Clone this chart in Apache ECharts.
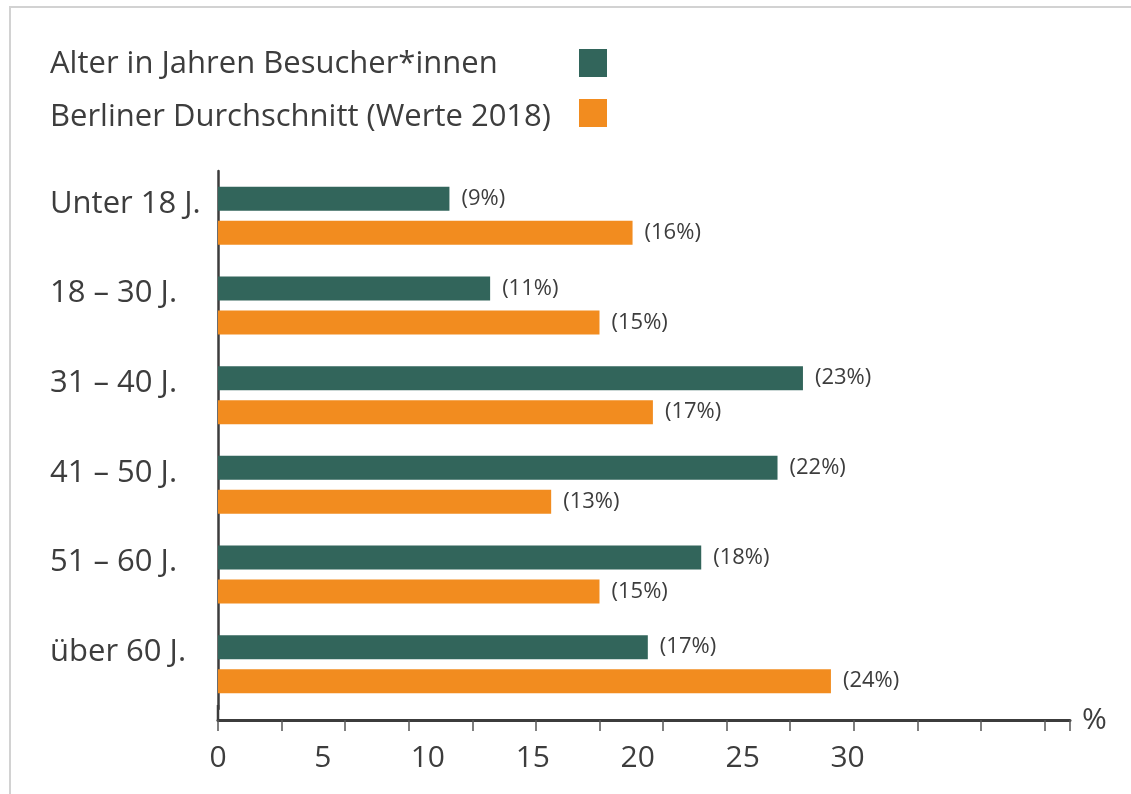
<!DOCTYPE html>
<html>
<head>
<meta charset="utf-8">
<script src="https://cdn.jsdelivr.net/npm/echarts@6/dist/echarts.min.js"></script>
<style>
html,body{margin:0;padding:0;background:#fff;}
#chart{width:1131px;height:794px;}
</style>
</head>
<body>
<div id="chart"></div>
<script>
// ---- data ----
var categories = ['Unter 18 J.', '18 \u2013 30 J.', '31 \u2013 40 J.', '41 \u2013 50 J.', '51 \u2013 60 J.', '\u00fcber 60 J.'];
var seriesNames = ['Alter in Jahren Besucher*innen', 'Berliner Durchschnitt (Werte 2018)'];
// bar lengths as drawn in the picture
var visitors = [9.1, 10.7, 23.0, 22.0, 19.0, 16.9];
var berlin = [16.3, 15.0, 17.1, 13.1, 15.0, 24.1];
// printed value labels
var visitorLabels = ['(9%)', '(11%)', '(23%)', '(22%)', '(18%)', '(17%)'];
var berlinLabels = ['(16%)', '(15%)', '(17%)', '(13%)', '(15%)', '(24%)'];
var tickLabels = ['0', '5', '10', '15', '20', '25', '30'];

var textColor = '#3d3d3d';
var font = 'Open Sans';
var chart = echarts.init(document.getElementById('chart'), null, {renderer: 'canvas'});

chart.setOption({
  backgroundColor: '#ffffff',
  animation: false,
  textStyle: {fontFamily: font, color: textColor},
  graphic: [
    {type: 'polyline', shape: {points: [[10, 794], [10, 7], [1131, 7]]}, style: {stroke: '#d2d2d2', lineWidth: 2, fill: null}, silent: true},
    {type: 'line', shape: {x1: 218, y1: 705, x2: 218, y2: 721}, style: {stroke: '#3c3c3c', lineWidth: 2.5}, silent: true}
  ],
  legend: [
    {
      orient: 'vertical', left: 17, top: 49, padding: 0, align: 'left',
      itemWidth: 28, itemHeight: 28, itemGap: 22, icon: 'rect',
      itemStyle: {opacity: 0},
      selectedMode: false, data: seriesNames,
      textStyle: {fontSize: 31, lineHeight: 28, fontFamily: font, color: textColor}
    },
    {
      orient: 'vertical', left: 579, top: 49, padding: 0, align: 'left',
      itemWidth: 28, itemHeight: 28, itemGap: 22, icon: 'rect',
      selectedMode: false, data: seriesNames,
      formatter: function () { return ''; },
      textStyle: {fontSize: 10, lineHeight: 10}
    }
  ],
  grid: {left: 218, right: 61, top: 171, bottom: 85, containLabel: false},
  xAxis: [
    {
      type: 'value', min: 0, max: 33.5, interval: 2.5, position: 'bottom', offset: 11,
      axisLine: {show: true, lineStyle: {color: '#3c3c3c', width: 3}},
      axisTick: {show: true, length: 11, lineStyle: {color: '#555', width: 1.5}},
      axisLabel: {show: false},
      splitLine: {show: false},
      name: '%', nameLocation: 'end', nameGap: 12,
      nameTextStyle: {fontSize: 30, fontFamily: font, color: textColor, verticalAlign: 'middle', padding: [6, 0, 0, 0]}
    },
    {
      type: 'value', min: 0, max: 40.6, interval: 5, position: 'bottom', offset: 11,
      axisLine: {show: false}, axisTick: {show: false}, splitLine: {show: false},
      axisLabel: {
        show: true, fontSize: 30, fontFamily: font, color: textColor, margin: 23, showMaxLabel: false,
        formatter: function (v) { var i = Math.round(v / 5); return (Math.abs(v - i * 5) < 1e-6 && i < tickLabels.length) ? tickLabels[i] : ''; }
      }
    }
  ],
  yAxis: {
    type: 'category', inverse: true, data: categories,
    axisLine: {show: true, lineStyle: {color: '#3c3c3c', width: 2.5}},
    axisTick: {show: false},
    splitLine: {show: false},
    axisLabel: {align: 'left', verticalAlign: 'bottom', lineHeight: 24, margin: 168, fontSize: 31, fontFamily: font, color: textColor}
  },
  series: [
    {
      name: seriesNames[0], type: 'bar', xAxisIndex: 0, data: visitors, barWidth: 24, barGap: '42%',
      itemStyle: {color: '#32655b'},
      label: {show: true, position: 'right', distance: 12, fontSize: 22, fontFamily: font, color: textColor,
        formatter: function (p) { return visitorLabels[p.dataIndex]; }}
    },
    {
      name: seriesNames[1], type: 'bar', xAxisIndex: 0, data: berlin, barWidth: 24, barGap: '42%',
      itemStyle: {color: '#f28c1f'},
      label: {show: true, position: 'right', distance: 12, fontSize: 22, fontFamily: font, color: textColor,
        formatter: function (p) { return berlinLabels[p.dataIndex]; }}
    }
  ]
});
</script>
</body>
</html>
